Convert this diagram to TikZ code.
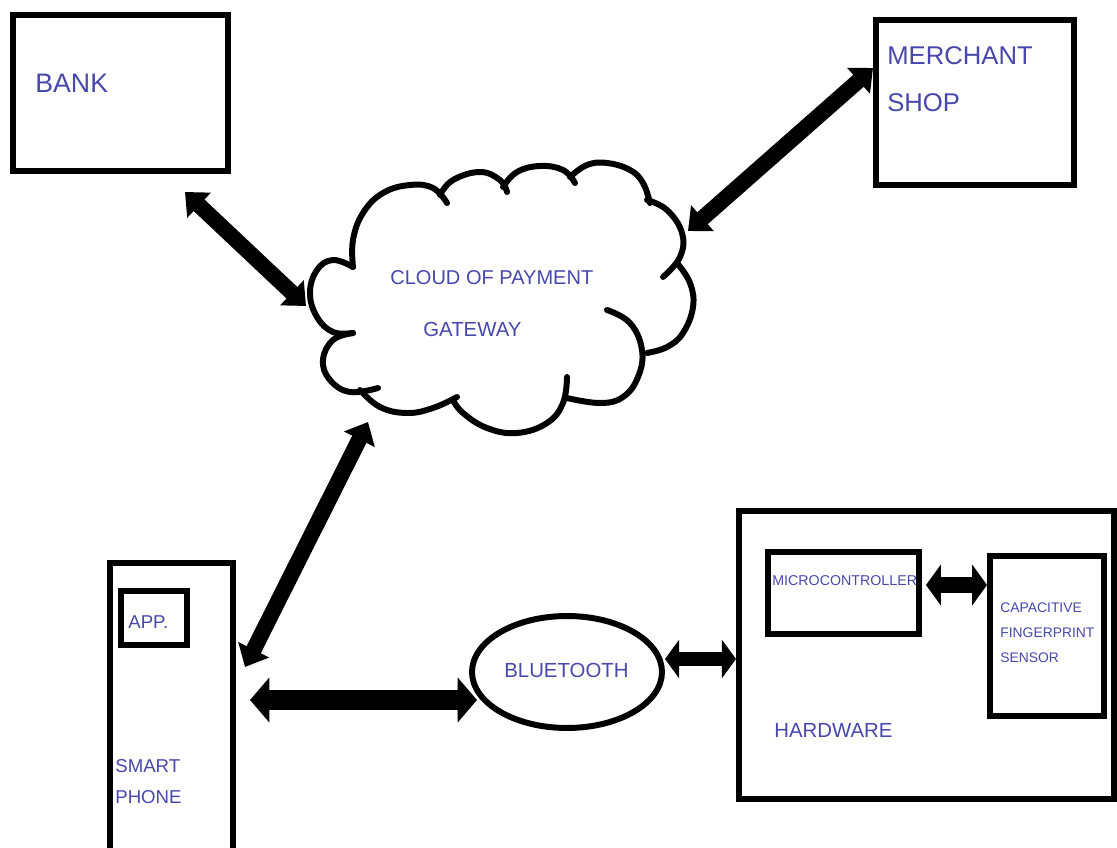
\documentclass[tikz,border=0pt]{standalone}
\usepackage{fontspec}
\setmainfont{Liberation Sans}
\usetikzlibrary{arrows.meta,fit,shapes.geometric}
\definecolor{txtblue}{RGB}{72,72,172}
\tikzset{
  box/.style={draw=black, line width=3.4pt, inner sep=0pt},
  lbl/.style={text=txtblue, inner sep=0pt, anchor=base west},
  cloudline/.style={line width=3.4pt, line cap=round, line join=round},
  arrdiag/.style={line width=9pt, {Triangle[width=19pt,length=11pt]}-{Triangle[width=19pt,length=11pt]}},
  arrbig/.style={line width=11.3pt, {Triangle[width=25pt,length=11pt]}-{Triangle[width=25pt,length=11pt]}},
  arrmid/.style={line width=8.5pt, {Triangle[width=21.5pt,length=8pt]}-{Triangle[width=21.5pt,length=8pt]}},
  arrsmall/.style={line width=9.5pt, {Triangle[width=23pt,length=8.5pt]}-{Triangle[width=23pt,length=8.5pt]}},
}
\begin{document}
\begin{tikzpicture}[x=0.02cm,y=-0.02cm]
\clip (0,0) rectangle (1117,848);
\fill[white] (0,0) rectangle (1117,848);

% boxes
\node[box, fit={(13,15) (228,171)}] (bank) {};
\node[box, fit={(876,20) (1074,185)}] (merchant) {};
\node[box, fit={(110,563) (233,880)}] (phone) {};
\node[box, fit={(121,591) (187,645)}] (app) {};
\node[box, fit={(739,511) (1114,799)}] (hardware) {};
\node[box, fit={(768,552) (919,634)}] (micro) {};
\node[box, fit={(990,556) (1104,716)}] (sensor) {};
\node[draw, line width=3.4pt, ellipse, inner sep=0pt, minimum width=3.8cm, minimum height=2.24cm] (bt) at (567,672) {};
\node[ellipse, inner sep=0pt, minimum width=7.6cm, minimum height=5cm] (cloud) at (501,305) {};

% cloud outline
\draw[cloudline] plot[smooth, tension=0.7] coordinates {(353,267) (353,240) (363,213) (383,193) (410,185) (433,188) (447,203)};
\draw[cloudline] plot[smooth, tension=0.7] coordinates {(440,195) (453,180) (480,172) (500,180) (507,192)};
\draw[cloudline] plot[smooth, tension=0.7] coordinates {(503,187) (517,172) (540,166) (563,170) (575,183)};
\draw[cloudline] plot[smooth, tension=0.7] coordinates {(570,177) (587,165) (607,163) (630,170) (643,183) (650,203)};
\draw[cloudline] plot[smooth, tension=0.7] coordinates {(647,200) (667,210) (682,233) (680,257) (663,277)};
\draw[cloudline] plot[smooth, tension=0.7] coordinates {(677,263) (690,283) (693,307) (683,333) (667,347) (647,353)};
\draw[cloudline] plot[smooth, tension=0.7] coordinates {(607,310) (630,323) (642,350) (638,377) (623,397) (600,403) (567,398)};
\draw[cloudline] plot[smooth, tension=0.7] coordinates {(567,377) (563,403) (547,423) (517,433) (487,428) (463,413) (453,400)};
\draw[cloudline] plot[smooth, tension=0.7] coordinates {(457,397) (433,408) (407,413) (380,407) (360,390)};
\draw[cloudline] plot[smooth, tension=0.7] coordinates {(353,333) (333,340) (323,360) (330,380) (350,392) (378,388)};
\draw[cloudline] plot[smooth, tension=0.7] coordinates {(353,267) (333,260) (317,270) (310,293) (317,317) (333,332) (353,333)};

% labels
\node[lbl, font=\fontsize{15.2}{18}\selectfont] (tbank) at (35,93) {BANK};
\node[lbl, font=\fontsize{14.6}{18}\selectfont] (tmerch) at (887,65) {MERCHANT};
\node[lbl, font=\fontsize{14.6}{18}\selectfont] (tshop) at (887,112) {SHOP};
\node[lbl, font=\fontsize{11.4}{14}\selectfont] (tcloud) at (390,285) {CLOUD OF PAYMENT};
\node[lbl, font=\fontsize{11.6}{14}\selectfont] (tgate) at (423,337) {GATEWAY};
\node[lbl, font=\fontsize{10.6}{13}\selectfont] (tapp) at (128,628) {APP.};
\node[lbl, font=\fontsize{10.6}{13}\selectfont] (tsmart) at (115,772) {SMART};
\node[lbl, font=\fontsize{10.6}{13}\selectfont] (tphone) at (115,803) {PHONE};
\node[lbl, font=\fontsize{11.6}{14}\selectfont] (tbt) at (504,677) {BLUETOOTH};
\node[lbl, font=\fontsize{8.1}{10}\selectfont] (tmicro) at (772,585) {MICROCONTROLLER};
\node[lbl, font=\fontsize{7.9}{10}\selectfont] (tcap) at (1000,612) {CAPACITIVE};
\node[lbl, font=\fontsize{7.9}{10}\selectfont] (tfing) at (1000,637) {FINGERPRINT};
\node[lbl, font=\fontsize{7.9}{10}\selectfont] (tsens) at (1000,662) {SENSOR};
\node[lbl, font=\fontsize{11.6}{14}\selectfont] (thw) at (774,737) {HARDWARE};

% connector end points
\coordinate (bankE) at (185,192);
\coordinate (cloudB) at (306,306);
\coordinate (merchE) at (873,68);
\coordinate (cloudM) at (688,231);
\coordinate (cloudP) at (368,422);
\coordinate (phoneC) at (245,667);
\coordinate (phoneB) at (250,700);
\coordinate (btP) at (477,700);
\coordinate (btH) at (665,659);
\coordinate (hwB) at (736,659);
\coordinate (microS) at (926,585);
\coordinate (sensM) at (987,585);

% connectors
\draw[arrdiag] (bankE) -- (cloudB);
\draw[arrdiag] (merchE) -- (cloudM);
\draw[arrdiag] (cloudP) -- (phoneC);
\draw[arrbig] (phoneB) -- (btP);
\draw[arrmid] (btH) -- (hwB);
\draw[arrsmall] (microS) -- (sensM);
\end{tikzpicture}
\end{document}
